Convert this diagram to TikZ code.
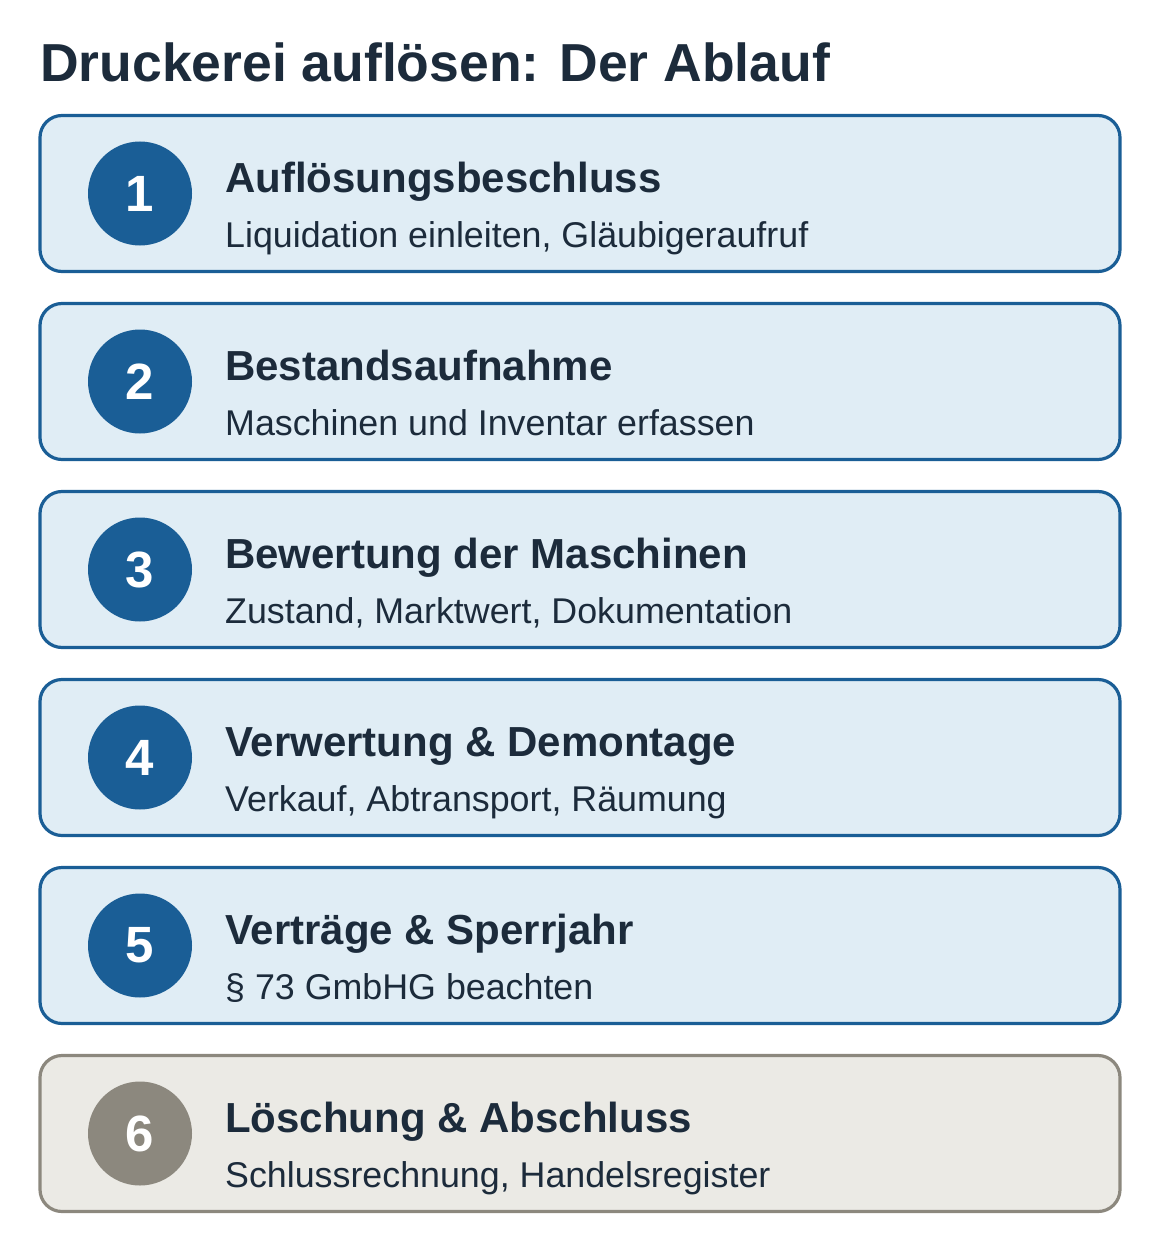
\documentclass[tikz,border=0pt]{standalone}
\usepackage{fontspec}
\setmainfont{Liberation Sans}
\usepackage{xcolor}
\usepackage{tikz}

\definecolor{stepblue}{HTML}{1A5E96}
\definecolor{steplight}{HTML}{E0EDF5}
\definecolor{stepgray}{HTML}{8C887E}
\definecolor{graylight}{HTML}{EBEAE5}
\definecolor{inkdark}{HTML}{1C2B3B}

\begin{document}
\begin{tikzpicture}[x=1pt,y=-1pt,
    stepbox/.style={line width=3.2pt, rounded corners=22pt},
    numdot/.style={circle, inner sep=0pt, minimum size=104pt, text=white,
      font=\bfseries\fontsize{51}{51}\selectfont},
    headtxt/.style={anchor=base west, inner sep=0pt, text=inkdark,
      font=\bfseries\fontsize{42}{48}\selectfont},
    subtxt/.style={anchor=base west, inner sep=0pt, text=inkdark,
      font=\fontsize{35.8}{40}\selectfont}]
  \useasboundingbox (0,0) rectangle (1160,1252);
  \node[anchor=base west, inner sep=0pt, text=inkdark,
    font=\bfseries\fontsize{53.5}{60}\selectfont] (title) at (40,82)
    {Druckerei auflösen: Der Ablauf};
  \foreach \i/\c/\f/\head/\sub in {
      1/stepblue/steplight/{Auflösungsbeschluss}/{Liquidation einleiten, Gläubigeraufruf},
      2/stepblue/steplight/{Bestandsaufnahme}/{Maschinen und Inventar erfassen},
      3/stepblue/steplight/{Bewertung der Maschinen}/{Zustand, Marktwert, Dokumentation},
      4/stepblue/steplight/{Verwertung \& Demontage}/{Verkauf, Abtransport, Räumung},
      5/stepblue/steplight/{Verträge \& Sperrjahr}/{§ 73 GmbHG beachten},
      6/stepgray/graylight/{Löschung \& Abschluss}/{Schlussrechnung, Handelsregister}} {
    \pgfmathsetmacro\top{115.5+188*(\i-1)}
    \filldraw[stepbox, draw=\c, fill=\f] (40,\top) rectangle ++(1080,156);
    \node[numdot, fill=\c] (num\i) at (140,\top+78) {\i};
    \node[headtxt] (head\i) at (225,\top+77) {\head};
    \node[subtxt] (sub\i) at (225,\top+132) {\sub};
  }
\end{tikzpicture}
\end{document}
